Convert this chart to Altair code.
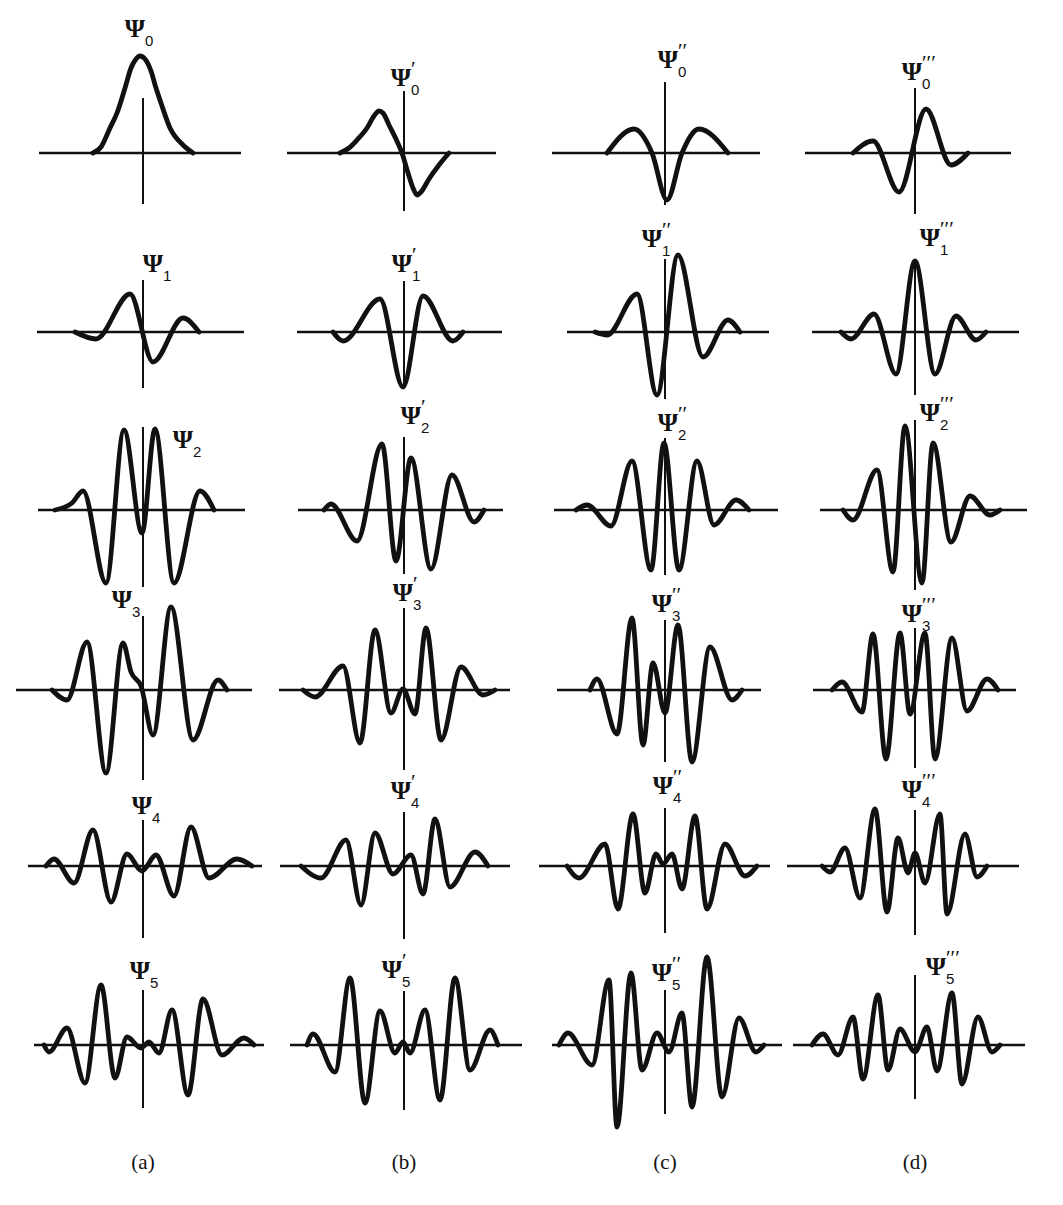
import altair as alt
import pandas as pd

# ---- curve values: x offset from the vertical axis, height above the horizontal axis ----
# row 0: Psi_0 and its derivatives
x0a = [-50, -42, -33, -26, -18, -12, -7, -3, 2, 8, 13, 18, 27, 40, 50]
y0a = [0, 6, 25, 40, 65, 85, 94, 97, 94, 82, 65, 50, 25, 8, 0]
x0b = [-64, -55, -47, -37, -30, -25, -21, -15, -8, -2, 4, 9, 13, 17, 25, 35, 45]
y0b = [0, 5, 13, 25, 37, 42, 40, 28, 14, 0, -20, -35, -42, -39, -26, -12, 0]
x0c = [-58, -31, -13, 2, 17, 34, 63]
y0c = [0, 24, 0, -47, 0, 24, 0]
x0d = [-62, -42, -16, 11, 36, 53]
y0d = [0, 12, -39, 44, -12, 0]
# row 1
x1a = [-68, -47, -13, 10, 40, 56]
y1a = [0, -7, 38, -30, 14, 0]
x1b = [-71, -61, -24, -1, 19, 49, 59]
y1b = [0, -9, 33, -55, 36, -9, 0]
x1c = [-70, -58, -28, -8, 13, 38, 63, 75]
y1c = [0, -3, 38, -63, 77, -25, 12, 0]
x1d = [-74, -64, -41, -19, 0, 20, 41, 61, 71]
y1d = [0, -7, 18, -42, 71, -42, 16, -8, 0]
# row 2
x2a = [-88, -71, -60, -37, -19, -1, 12, 31, 57, 71]
y2a = [0, 7, 19, -73, 80, -23, 81, -73, 19, 0]
x2b = [-80, -73, -47, -22, -8, 7, 27, 48, 70, 80]
y2b = [0, 6, -31, 66, -51, 52, -59, 35, -12, 0]
x2c = [-89, -78, -54, -33, -14, -1, 14, 32, 49, 71, 84]
y2c = [0, 5, -16, 49, -60, 67, -60, 49, -15, 10, 0]
x2d = [-72, -62, -38, -22, -10, 7, 18, 36, 55, 75, 85]
y2d = [0, -10, 40, -62, 84, -73, 67, -32, 14, -5, 0]
# row 3
x3a = [-91, -76, -56, -37, -20, -12, -2, 10, 28, 50, 75, 84]
y3a = [0, -10, 48, -83, 47, 18, 4, -45, 83, -50, 10, 0]
x3b = [-101, -89, -61, -44, -29, -13, -1, 11, 22, 37, 57, 79, 91]
y3b = [0, -7, 24, -53, 60, -23, 1, -24, 62, -50, 23, -5, 0]
x3c = [-75, -68, -48, -33, -22, -12, 0, 13, 27, 45, 67, 77]
y3c = [0, 11, -44, 72, -55, 27, -23, 65, -72, 43, -10, 0]
x3d = [-83, -73, -53, -42, -29, -15, -5, 10, 20, 37, 52, 72, 83]
y3d = [0, 8, -22, 56, -69, 57, -24, 57, -69, 52, -21, 11, 0]
# row 4
x4a = [-97, -89, -69, -50, -32, -16, -1, 13, 31, 48, 66, 94, 109]
y4a = [0, 7, -17, 36, -36, 12, -5, 11, -30, 39, -12, 7, 0]
x4b = [-103, -83, -58, -43, -29, -11, 7, 19, 31, 46, 71, 84]
y4b = [0, -12, 26, -39, 33, -8, 11, -28, 47, -21, 14, 0]
x4c = [-98, -86, -60, -47, -32, -20, -9, -2, 7, 17, 30, 42, 60, 80, 92]
y4c = [0, -12, 22, -43, 52, -27, 12, 2, 12, -23, 50, -43, 22, -10, 0]
x4d = [-93, -85, -70, -55, -40, -28, -17, -7, 0, 10, 25, 32, 50, 62, 72]
y4d = [0, -6, 18, -32, 57, -46, 28, -7, 13, -17, 52, -48, 32, -11, 0]
# row 5
x5a = [-99, -94, -76, -58, -42, -28, -16, -2, 6, 16, 29, 45, 60, 79, 101, 111]
y5a = [0, -7, 17, -38, 60, -33, 8, -3, 3, -8, 35, -50, 46, -10, 7, 0]
x5b = [-97, -91, -69, -54, -39, -24, -9, -1, 6, 21, 36, 51, 66, 86, 94]
y5b = [0, 11, -27, 67, -58, 34, -8, 3, -8, 35, -55, 67, -25, 15, 0]
x5c = [-106, -97, -73, -56, -48, -34, -23, -8, 4, 17, 27, 42, 57, 74, 91, 99]
y5c = [0, 12, -20, 65, -82, 72, -25, 12, -7, 32, -62, 88, -52, 27, -7, 0]
x5d = [-103, -92, -77, -62, -52, -37, -27, -15, 0, 12, 22, 37, 47, 63, 77, 85]
y5d = [0, 11, -10, 28, -34, 50, -25, 16, -7, 18, -26, 52, -39, 28, -7, 0]

curves_x = [[x0a, x0b, x0c, x0d], [x1a, x1b, x1c, x1d], [x2a, x2b, x2c, x2d],
            [x3a, x3b, x3c, x3d], [x4a, x4b, x4c, x4d], [x5a, x5b, x5c, x5d]]
curves_y = [[y0a, y0b, y0c, y0d], [y1a, y1b, y1c, y1d], [y2a, y2b, y2c, y2d],
            [y3a, y3b, y3c, y3d], [y4a, y4b, y4c, y4d], [y5a, y5b, y5c, y5d]]

# extents of the drawn axis lines (same units)
h_left = [[-104, -117, -113, -110], [-106, -107, -98, -103], [-105, -106, -111, -95],
          [-127, -125, -108, -102], [-115, -124, -126, -128], [-109, -114, -113, -122]]
h_right = [[98, 92, 95, 96], [101, 98, 104, 104], [102, 99, 113, 112],
           [109, 106, 96, 101], [119, 106, 105, 104], [121, 118, 117, 110]]
v_top = [[55, 62, 71, 65], [52, 51, 73, 71], [83, 73, 72, 90],
         [74, 82, 70, 62], [46, 54, 58, 56], [55, 54, 55, 70]]
v_bot = [[-51, -58, -52, -61], [-56, -56, -67, -63], [-77, -64, -65, -80],
         [-90, -80, -72, -78], [-72, -73, -67, -69], [-63, -65, -69, -54]]

# label anchors
lab_x = [[-8, -3, 3, -3], [10, -2, -13, 15], [40, 7, 3, 15],
         [-21, -1, -3, -3], [-1, -3, -2, -3], [-3, -12, -3, 21]]
lab_y = [[124, 75, 93, 81], [68, 68, 93, 94], [70, 94, 87, 97],
         [90, 97, 86, 76], [60, 75, 80, 76], [74, 75, 72, 78]]

subscripts = ["0", "1", "2", "3", "4", "5"]
primes = ["", "\u2032", "\u2032\u2032", "\u2032\u2032\u2032"]
column_names = ["(a)", "(b)", "(c)", "(d)"]

# ---- layout (pixels) ----
col_left = [143, 130, 131, 125]
col_right = [131, 130, 125, 148]
row_top = [153, 92, 90, 90, 88, 90]
row_bottom = [87, 88, 90, 88, 89, 85]
INK = "#111111"


def panel(r, c):
    xs = alt.Scale(domain=[-col_left[c], col_right[c]], nice=False, zero=False)
    ys = alt.Scale(domain=[-row_bottom[r], row_top[r]], nice=False, zero=False)

    def X(f):
        return alt.X(f, type="quantitative", scale=xs, axis=None)

    def Y(f):
        return alt.Y(f, type="quantitative", scale=ys, axis=None)

    curve_df = pd.DataFrame({"x": curves_x[r][c], "y": curves_y[r][c]})
    curve = alt.Chart(curve_df).mark_line(
        interpolate="monotone", color=INK, strokeWidth=4.8,
        strokeCap="round", strokeJoin="round"
    ).encode(x=X("x"), y=Y("y"))

    h_df = pd.DataFrame({"x": [h_left[r][c]], "x2": [h_right[r][c]], "y": [0]})
    hline = alt.Chart(h_df).mark_rule(color=INK, strokeWidth=2.7).encode(
        x=X("x"), x2="x2:Q", y=Y("y"))

    v_df = pd.DataFrame({"x": [0], "y": [v_bot[r][c]], "y2": [v_top[r][c]]})
    vline = alt.Chart(v_df).mark_rule(color=INK, strokeWidth=2).encode(
        x=X("x"), y=Y("y"), y2="y2:Q")

    lab_df = pd.DataFrame({"x": [lab_x[r][c]], "y": [lab_y[r][c]],
                           "psi": ["\u03a8"], "sub": [subscripts[r]], "pr": [primes[c]]})
    psi = alt.Chart(lab_df).mark_text(
        font="Liberation Serif", fontWeight="bold", fontSize=26, color=INK,
        align="center", baseline="middle"
    ).encode(x=X("x"), y=Y("y"), text="psi:N")
    sub = alt.Chart(lab_df).mark_text(
        font="Liberation Sans", fontSize=15, color=INK,
        align="left", baseline="middle", dx=10, dy=12
    ).encode(x=X("x"), y=Y("y"), text="sub:N")
    layers = [hline, vline, curve, psi, sub]
    if primes[c]:
        pr = alt.Chart(lab_df).mark_text(
            font="Liberation Serif", fontSize=21, color=INK,
            align="left", baseline="middle", dx=10, dy=-8
        ).encode(x=X("x"), y=Y("y"), text="pr:N")
        layers.append(pr)
    return alt.layer(*layers).properties(
        width=col_left[c] + col_right[c], height=row_bottom[r] + row_top[r])


def name_panel(c):
    xs = alt.Scale(domain=[-col_left[c], col_right[c]], nice=False, zero=False)
    df = pd.DataFrame({"x": [0], "t": [column_names[c]]})
    return alt.Chart(df).mark_text(
        font="Liberation Serif", fontSize=21, color=INK,
        align="center", baseline="middle"
    ).encode(x=alt.X("x:Q", scale=xs, axis=None), y=alt.value(33), text="t:N").properties(
        width=col_left[c] + col_right[c], height=75)


cells = [panel(r, c) for r in range(6) for c in range(4)]
cells += [name_panel(c) for c in range(4)]

chart = alt.concat(*cells, columns=4, spacing=0, bounds="flush").properties(
    padding=0, autosize=alt.AutoSizeParams(type="pad"), background="white"
).configure_view(stroke=None)

chart.save("out.html", embed_options={"renderer": "svg", "actions": False})
